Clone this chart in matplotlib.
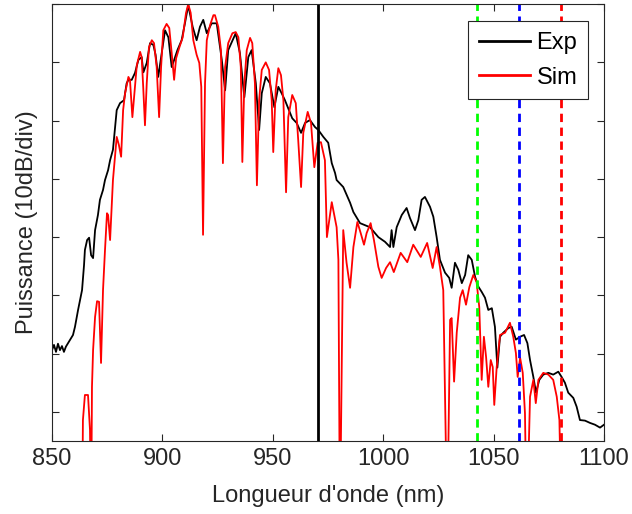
import numpy as np
import matplotlib.pyplot as plt

# measured spectrum (Exp), dB relative to peak
exp_wl = [850.0, 850.9, 851.8, 852.7, 853.6, 854.5, 855.4, 856.3, 858.2, 859.5, 860.4, 861.8, 862.7, 863.6,
          864.5, 864.9, 865.9, 866.8, 867.7, 868.6, 869.5, 870.8, 871.7, 873.1, 874.0, 875.4, 876.3, 877.6,
          879.3, 880.8, 882.6, 883.8, 884.6, 886.1, 887.6, 889.1, 890.6, 891.4, 892.9, 894.4, 895.9, 896.9,
          898.1, 899.7, 901.2, 902.7, 904.2, 905.3, 906.8, 908.7, 910.2, 911.7, 913.7, 915.5, 917.0, 918.5,
          920.1, 922.3, 924.6, 926.9, 928.4, 929.8, 933.2, 935.1, 937.1, 938.9, 940.4, 942.3, 943.8, 945.0,
          946.8, 948.7, 950.7, 952.5, 954.0, 955.5, 957.3, 958.8, 960.8, 962.8, 964.6, 966.8, 969.1, 970.6,
          972.9, 975.1, 976.7, 978.2, 978.9, 981.9, 985.0, 986.5, 989.5, 994.0, 997.8, 1000.8, 1003.1,
          1003.8, 1004.6, 1006.1, 1008.4, 1010.6, 1012.1, 1014.4, 1015.9, 1017.4, 1018.9, 1021.2, 1022.7,
          1024.2, 1025.7, 1028.0, 1029.9, 1031.0, 1032.5, 1034.0, 1035.6, 1037.1, 1038.5, 1040.1, 1041.6,
          1043.1, 1044.6, 1046.1, 1047.6, 1049.2, 1050.6, 1051.7, 1052.9, 1054.4, 1056.7, 1058.2, 1060.1,
          1062.0, 1063.8, 1065.3, 1066.5, 1068.0, 1069.2, 1070.7, 1072.5, 1074.8, 1077.0, 1079.3, 1080.8,
          1082.3, 1083.8, 1086.1, 1087.6, 1089.1, 1091.4, 1093.7, 1095.9, 1098.2, 1100.0]
exp_db = [-59.4, -58.5, -59.7, -58.3, -59.4, -58.7, -59.7, -58.8, -57.6, -56.8, -55.4, -52.5, -50.8, -49.1,
          -44.8, -42.2, -40.5, -40.1, -43.1, -43.6, -38.8, -36.2, -33.6, -31.9, -30.2, -28.5, -26.8, -25.0,
          -18.2, -17.0, -16.5, -13.6, -13.0, -13.0, -11.8, -9.6, -9.1, -11.7, -10.1, -6.7, -7.0, -8.7,
          -12.5, -8.4, -4.5, -5.7, -10.8, -9.6, -7.9, -6.2, -3.3, -0.2, -3.9, -6.2, -3.9, -2.7,
          -5.0, -3.3, -3.3, -9.6, -14.8, -7.9, -5.0, -8.4, -16.0, -9.1, -7.9, -13.6, -21.6, -15.3,
          -12.5, -13.6, -17.7, -14.2, -15.3, -16.5, -18.2, -19.6, -20.4, -22.1, -20.4, -19.9, -21.1, -21.6,
          -22.8, -23.8, -27.3, -29.0, -30.2, -31.4, -34.1, -35.7, -37.6, -38.3, -40.0, -40.8, -41.7,
          -38.8, -41.7, -38.3, -36.2, -35.0, -36.7, -38.8, -37.1, -33.6, -33.1, -34.8, -36.5,
          -40.0, -43.9, -46.1, -47.0, -48.7, -44.4, -45.6, -47.9, -46.5, -43.1, -43.9, -46.8,
          -48.5, -49.4, -50.4, -52.5, -52.2, -55.4, -62.4, -57.1, -56.4, -55.6, -55.4, -57.6,
          -57.1, -56.8, -58.2, -61.1, -64.0, -66.7, -64.5, -63.6, -63.3, -63.6, -63.1, -64.0,
          -65.0, -66.7, -67.6, -69.1, -71.4, -71.5, -71.9, -72.2, -72.7, -72.2]

# simulated spectrum (Sim), -90 = deep notch below the axis
sim_wl = [863.6, 864.0, 864.9, 866.3, 867.2, 867.7, 868.1, 868.6, 869.5, 870.4, 871.3, 872.2, 872.6, 873.1,
          874.0, 874.9, 875.4, 876.3, 877.6, 879.3, 880.3, 881.3, 882.2, 883.1, 884.6, 885.3, 886.4, 887.3,
          888.4, 889.9, 890.6, 891.3, 892.1, 892.9, 893.9, 895.2, 896.2, 897.4, 898.5, 899.4, 900.4, 901.9,
          903.1, 904.2, 905.3, 906.2, 907.7, 909.2, 910.7, 911.7, 912.8, 914.0, 915.5, 916.7, 917.6, 918.4,
          919.3, 920.1, 921.6, 923.1, 923.8, 925.3, 926.5, 927.4, 928.4, 929.8, 931.7, 933.2, 934.4, 935.5,
          936.2, 937.1, 938.2, 939.7, 940.7, 941.9, 942.8, 943.8, 945.0, 946.8, 948.3, 949.5, 950.2, 951.3,
          952.5, 953.7, 954.8, 956.0, 957.0, 958.8, 960.4, 961.5, 962.8, 963.8, 965.8, 967.3, 968.8, 970.3,
          971.8, 973.6, 974.5, 976.7, 978.9, 979.7, 980.4, 981.9, 983.4, 985.0, 986.5, 988.3, 989.8, 991.3,
          992.5, 994.3, 995.8, 997.8, 999.3, 1001.3, 1003.1, 1004.8, 1007.9, 1010.9, 1013.6, 1017.0, 1019.9,
          1022.4, 1024.2, 1025.7, 1027.2, 1029.0, 1030.3, 1031.0, 1032.1, 1033.3, 1034.8, 1036.0, 1037.5,
          1039.0, 1040.8, 1042.3, 1043.5, 1044.6, 1045.6, 1046.6, 1047.6, 1048.7, 1049.6, 1050.3, 1051.4,
          1052.9, 1055.2, 1057.4, 1058.9, 1060.1, 1060.9, 1062.0, 1063.2, 1064.2, 1065.0, 1066.5, 1068.0,
          1069.1, 1070.3, 1072.5, 1074.8, 1077.0, 1078.6, 1079.8, 1080.8]
sim_db = [-90, -71.4, -67.1, -67.1, -73.1, -90, -65.7, -59.4, -53.7, -51.0, -51.1, -61.6, -55.9, -49.1,
          -42.2, -35.9, -36.2, -40.5, -30.2, -22.8, -24.2, -26.2, -18.2, -15.3, -12.5, -13.0, -19.4, -15.3,
          -10.5, -8.2, -9.1, -14.2, -20.8, -13.6, -7.4, -6.2, -6.7, -10.8, -19.4, -10.8, -4.5, -3.4,
          -4.1, -8.4, -13.0, -9.3, -7.4, -5.7, -1.5, 0.0, -1.5, -6.2, -8.7, -10.1, -14.2, -39.6,
          -13.6, -6.2, -3.6, -1.9, -1.9, -3.9, -7.9, -27.3, -10.8, -6.7, -5.0, -4.8, -5.7, -10.8,
          -27.1, -13.6, -7.9, -5.8, -6.7, -13.6, -31.1, -16.5, -11.3, -10.0, -11.3, -16.5, -25.4, -14.8,
          -11.0, -12.2, -16.5, -32.3, -19.4, -15.6, -17.0, -23.3, -31.4, -22.1, -18.5, -20.4, -28.0, -23.8,
          -23.7, -26.8, -40.0, -34.0, -38.3, -43.9, -90, -38.8, -44.4, -48.7, -41.7, -37.4, -39.3, -41.3,
          -39.3, -37.6, -40.5, -45.1, -47.0, -45.3, -44.3, -46.0, -42.7, -44.3, -41.3, -43.4, -41.0,
          -45.3, -41.7, -45.1, -49.1, -90, -54.2, -53.9, -64.8, -56.4, -50.4, -49.1, -51.6,
          -48.6, -46.5, -47.7, -52.0, -64.5, -57.1, -60.6, -65.7, -61.1, -62.3, -68.8, -62.3,
          -56.8, -56.4, -54.7, -57.1, -59.9, -64.0, -60.7, -63.3, -70.2, -90, -67.4, -64.5,
          -68.5, -64.5, -63.3, -63.6, -64.5, -67.4, -71.4, -90]

pump_wl = 970.5
marker_wl = [1042.5, 1061.5, 1080.5]
marker_colors = ['#00ff00', '#0000ff', '#ff0000']

plt.rcParams['font.family'] = ['Liberation Sans', 'DejaVu Sans']
fig = plt.figure(figsize=(6.32, 5.14), dpi=100)
ax = fig.add_axes([0.0823, 0.142, 0.8734, 0.850])

ax.plot(exp_wl, exp_db, color='black', linewidth=1.3, label='Exp')
ax.plot(sim_wl, sim_db, color='red', linewidth=1.3, label='Sim')
ax.axvline(pump_wl, color='black', linewidth=2)
for wl, c in zip(marker_wl, marker_colors):
    ax.axvline(wl, color=c, linewidth=2, linestyle=(0, (3, 2)))

ax.set_xlim(850, 1100)
ax.set_ylim(-75, 0)
ax.set_xticks([850, 900, 950, 1000, 1050, 1100])
ax.set_yticks(np.arange(-70, 1, 10))
ax.set_yticklabels([])
ax.tick_params(direction='in', top=True, right=True, length=5, pad=5, labelsize=17, colors='#262626')
for s in ax.spines.values():
    s.set_color('#262626')
ax.set_xlabel("Longueur d'onde (nm)", fontsize=17, color='#262626', labelpad=11)
ax.set_ylabel("Puissance (10dB/div)", fontsize=17, color='#262626', labelpad=5)

leg = ax.legend(loc='upper right', bbox_to_anchor=(0.971, 0.961), borderaxespad=0, fontsize=17,
                fancybox=False, framealpha=1, edgecolor='#262626', handlelength=2.15,
                handletextpad=0.3, borderpad=0.45, labelspacing=0.55)
leg.get_frame().set_linewidth(0.8)
for h in leg.get_lines():
    h.set_linewidth(2)

fig.savefig('out.png', dpi=100)
